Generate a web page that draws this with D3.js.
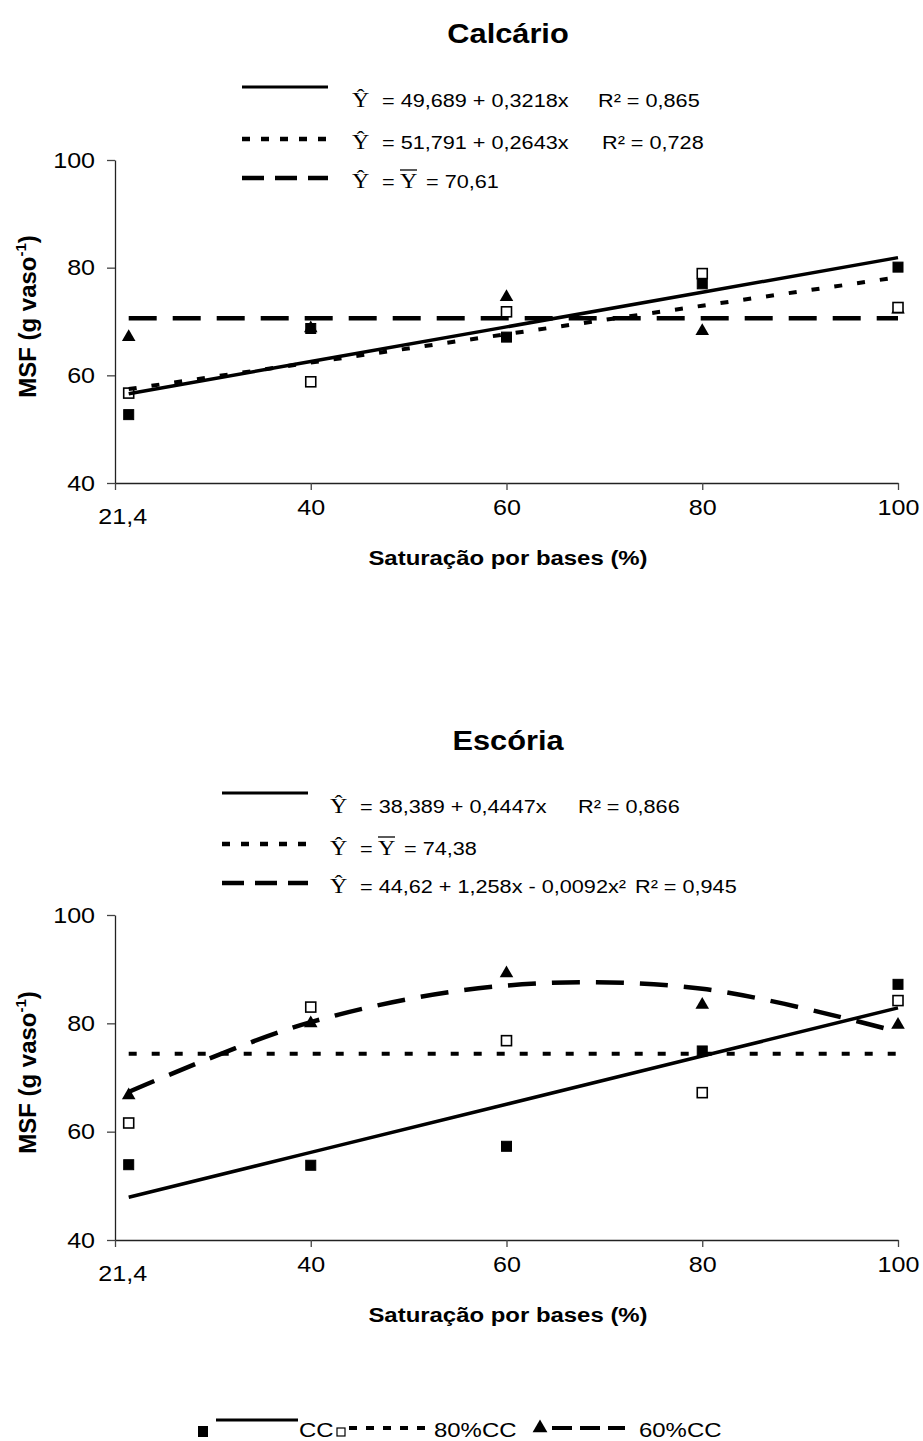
<!DOCTYPE html>
<html>
<head>
<meta charset="utf-8">
<script src="https://cdn.jsdelivr.net/npm/d3@7"></script>
<style>
    body { margin: 0; background: #fff; }
    svg { display: block; }
</style>
</head>
<body>
<div id="chart"></div>
<script>
// x values (saturação por bases, %) and axis labels
const xValues = [21.4, 40, 60, 80, 100];
const xTicks = [20, 40, 60, 80, 100];
const xTickLabels = ['', '40', '60', '80', '100'];
const firstXLabel = '21,4';
const yTicks = [40, 60, 80, 100];

// Calcário - observed MSF
const calcCC = [52.7, 68.7, 67.1, 77.0, 80.1];
const calc80 = [56.7, 58.8, 71.8, 78.9, 72.6];
const calc60 = [67.3, 68.9, 74.7, 68.4, 72.4];
// Calcário - fitted equations (coefficients of 1, x, x²)
const calcFitCC = [49.689, 0.3218];
const calcFit80 = [51.791, 0.2643];
const calcFit60 = [70.61];
const calcLegend = [
    {eq: '= 49,689 + 0,3218x', r2: 'R² = 0,865'},
    {eq: '=  51,791 + 0,2643x', r2: 'R² = 0,728'},
    {mean: '= 70,61'}
];

// Escória - observed MSF
const escCC = [53.9, 53.8, 57.3, 74.9, 87.2];
const esc80 = [61.6, 83.0, 76.8, 67.2, 84.2];
const esc60 = [66.9, 80.2, 89.4, 83.6, 79.9];
const escFitCC = [38.389, 0.4447];
const escFit80 = [74.38];
const escFit60 = [44.62, 1.258, -0.0092];
const escLegend = [
    {eq: '= 38,389 + 0,4447x', r2: 'R² = 0,866'},
    {mean: '= 74,38'},
    {eq: '= 44,62 + 1,258x - 0,0092x²', r2: 'R² = 0,945'}
];

const seriesNames = ['CC', '80%CC', '60%CC'];

const W = 923, H = 1441;
const SX = 1.14;   // the glyphs in the picture are a bit wide
const SANS = 'Liberation Sans, Arial, Helvetica, sans-serif';
const SERIF = 'Liberation Serif, Times New Roman, serif';

const lineStyles = {
    solid: {dash: null, width: 3.5},
    dotted: {dash: '8,15', width: 4},
    dashed: {dash: '28,16', width: 4.5}
};
const legendStyles = {
    solid: {dash: null, width: 3},
    dotted: {dash: '8,11', width: 4.5},
    dashed: {dash: '22,11', width: 4.5}
};

const svg = d3.select('#chart').append('svg')
    .attr('width', W)
    .attr('height', H)
    .style('background', '#fff');

function label(g, x, y, str, o = {}) {
    return g.append('text')
        .attr('transform', `translate(${x},${y}) scale(${o.sx || SX},1)`)
        .attr('text-anchor', o.anchor || 'start')
        .attr('font-family', o.family || SANS)
        .attr('font-size', o.size || 19)
        .attr('font-weight', o.weight || 'normal')
        .attr('fill', '#000')
        .text(str);
}

function fitPoints(coef) {
    return xValues.map((v) => [v, coef.reduce((s, c, i) => s + c * Math.pow(v, i), 0)]);
}

function drawMarkers(g, x, y, values, kind) {
    let sel = g.append('g').selectAll('path')
        .data(values.map((v, i) => [xValues[i], v]))
        .enter();
    if (kind === 'tri') {
        sel.append('path')
            .attr('d', d3.symbol(d3.symbolTriangle, 80))
            .attr('transform', (d) => `translate(${x(d[0])},${y(d[1]) + 1})`)
            .attr('fill', '#000');
    } else {
        sel.append('rect')
            .attr('x', (d) => x(d[0]) - 5)
            .attr('y', (d) => y(d[1]) - 5)
            .attr('width', 10)
            .attr('height', 10)
            .attr('fill', kind === 'filled' ? '#000' : '#fff')
            .attr('stroke', '#000')
            .attr('stroke-width', kind === 'filled' ? 1 : 1.6);
    }
}

function drawPanel(cfg) {
    let g = svg.append('g');
    let x = d3.scaleLinear().domain([20, 100]).range([115, 898]);
    let y = d3.scaleLinear().domain([40, 100]).range([cfg.bottom, cfg.top]);

    // title
    label(g, 508, cfg.titleY, cfg.title, {anchor: 'middle', size: 27, weight: 'bold'});

    // equation legend
    cfg.legend.forEach((row, i) => {
        let st = legendStyles[cfg.styles[i]];
        let ly = cfg.legendY[i];
        g.append('line')
            .attr('x1', cfg.legLine[0]).attr('x2', cfg.legLine[1])
            .attr('y1', ly + cfg.lineOff[i]).attr('y2', ly + cfg.lineOff[i])
            .attr('stroke', '#000')
            .attr('stroke-width', st.width)
            .attr('stroke-dasharray', st.dash);
        label(g, cfg.hatX, ly, 'Ŷ', {family: SERIF, size: 21});
        if (row.mean) {
            label(g, cfg.hatX + 30, ly, '=');
            label(g, cfg.hatX + 48, ly, 'Y', {family: SERIF, size: 21});
            g.append('line')
                .attr('x1', cfg.hatX + 48).attr('x2', cfg.hatX + 65)
                .attr('y1', ly - 18).attr('y2', ly - 18)
                .attr('stroke', '#000').attr('stroke-width', 1.3);
            label(g, cfg.hatX + 74, ly, row.mean);
        } else {
            label(g, cfg.hatX + 30, ly, row.eq);
            label(g, cfg.r2X[i], ly, row.r2);
        }
    });

    // axes
    let yAxis = d3.axisLeft(y).tickValues(yTicks).tickSize(8).tickSizeOuter(0).tickPadding(12);
    let xAxis = d3.axisBottom(x).tickValues(xTicks)
        .tickFormat((d, i) => xTickLabels[i])
        .tickSize(7).tickSizeOuter(0).tickPadding(9);

    let ya = g.append('g').attr('transform', 'translate(115,0)').call(yAxis);
    let xa = g.append('g').attr('transform', `translate(0,${cfg.bottom})`).call(xAxis);
    [ya, xa].forEach((a) => {
        a.select('.domain').attr('stroke', '#222').attr('stroke-width', 1.3);
        a.selectAll('.tick line').attr('stroke', '#444').attr('stroke-width', 1.3);
        a.selectAll('text')
            .attr('font-family', SANS)
            .attr('font-size', 22)
            .attr('fill', '#000');
    });
    ya.selectAll('text').each(function () {
        let t = d3.select(this);
        t.attr('x', +t.attr('x') / SX).attr('transform', `scale(${SX},1)`);
    });
    xa.selectAll('text').attr('transform', `scale(${SX},1)`);

    label(g, x(xValues[0]) - 6, cfg.bottom + 41, firstXLabel, {anchor: 'middle', size: 22});
    label(g, 508, cfg.bottom + 82, 'Saturação por bases (%)', {anchor: 'middle', size: 21, weight: 'bold'});

    let yt = g.append('text')
        .attr('transform', `translate(36,${(cfg.top + cfg.bottom) / 2 - 5}) rotate(-90)`)
        .attr('text-anchor', 'middle')
        .attr('font-family', SANS)
        .attr('font-size', 24)
        .attr('font-weight', 'bold');
    yt.append('tspan').text('MSF (g vaso');
    yt.append('tspan').attr('font-size', 15).attr('dy', -10).text('-1');
    yt.append('tspan').attr('dy', 10).text(')');

    // observed values
    drawMarkers(g, x, y, cfg.data[0], 'filled');
    drawMarkers(g, x, y, cfg.data[2], 'tri');
    drawMarkers(g, x, y, cfg.data[1], 'open');

    // fitted lines
    cfg.fits.forEach((coef, i) => {
        let st = lineStyles[cfg.styles[i]];
        let line = d3.line()
            .x((d) => x(d[0]))
            .y((d) => y(d[1]))
            .curve(coef.length > 2 ? d3.curveCatmullRom : d3.curveLinear);
        g.append('path')
            .datum(fitPoints(coef))
            .attr('d', line)
            .attr('fill', 'none')
            .attr('stroke', '#000')
            .attr('stroke-width', st.width)
            .attr('stroke-dasharray', st.dash);
    });
}

drawPanel({
    title: 'Calcário',
    titleY: 43,
    top: 160, bottom: 483,
    legend: calcLegend,
    legendY: [107, 149, 188],
    lineOff: [-20, -10, -10],
    legLine: [242, 328],
    hatX: 352,
    r2X: [598, 602, 0],
    styles: ['solid', 'dotted', 'dashed'],
    data: [calcCC, calc80, calc60],
    fits: [calcFitCC, calcFit80, calcFit60]
});

drawPanel({
    title: 'Escória',
    titleY: 750,
    top: 915, bottom: 1240,
    legend: escLegend,
    legendY: [813, 855, 893],
    lineOff: [-20, -11, -10],
    legLine: [222, 308],
    hatX: 330,
    r2X: [578, 0, 635],
    styles: ['solid', 'dotted', 'dashed'],
    data: [escCC, esc80, esc60],
    fits: [escFitCC, escFit80, escFit60]
});

// series legend at the bottom
let lg = svg.append('g');
let ly = 1437;
lg.append('rect').attr('x', 198).attr('y', ly - 11).attr('width', 10).attr('height', 11).attr('fill', '#000');
lg.append('line').attr('x1', 216).attr('x2', 298).attr('y1', ly - 17).attr('y2', ly - 17)
    .attr('stroke', '#000').attr('stroke-width', 3);
label(lg, 299, ly, seriesNames[0], {size: 21});
lg.append('rect').attr('x', 337).attr('y', ly - 9).attr('width', 8).attr('height', 8)
    .attr('fill', '#fff').attr('stroke', '#000').attr('stroke-width', 1.2);
lg.append('line').attr('x1', 349).attr('x2', 425).attr('y1', ly - 9).attr('y2', ly - 9)
    .attr('stroke', '#000').attr('stroke-width', 4).attr('stroke-dasharray', '8,9');
label(lg, 434, ly, seriesNames[1], {size: 21});
lg.append('path').attr('d', d3.symbol(d3.symbolTriangle, 95))
    .attr('transform', `translate(540,${ly - 9})`).attr('fill', '#000');
lg.append('line').attr('x1', 552).attr('x2', 625).attr('y1', ly - 9).attr('y2', ly - 9)
    .attr('stroke', '#000').attr('stroke-width', 4).attr('stroke-dasharray', '20,8');
label(lg, 639, ly, seriesNames[2], {size: 21});
</script>
</body>
</html>
